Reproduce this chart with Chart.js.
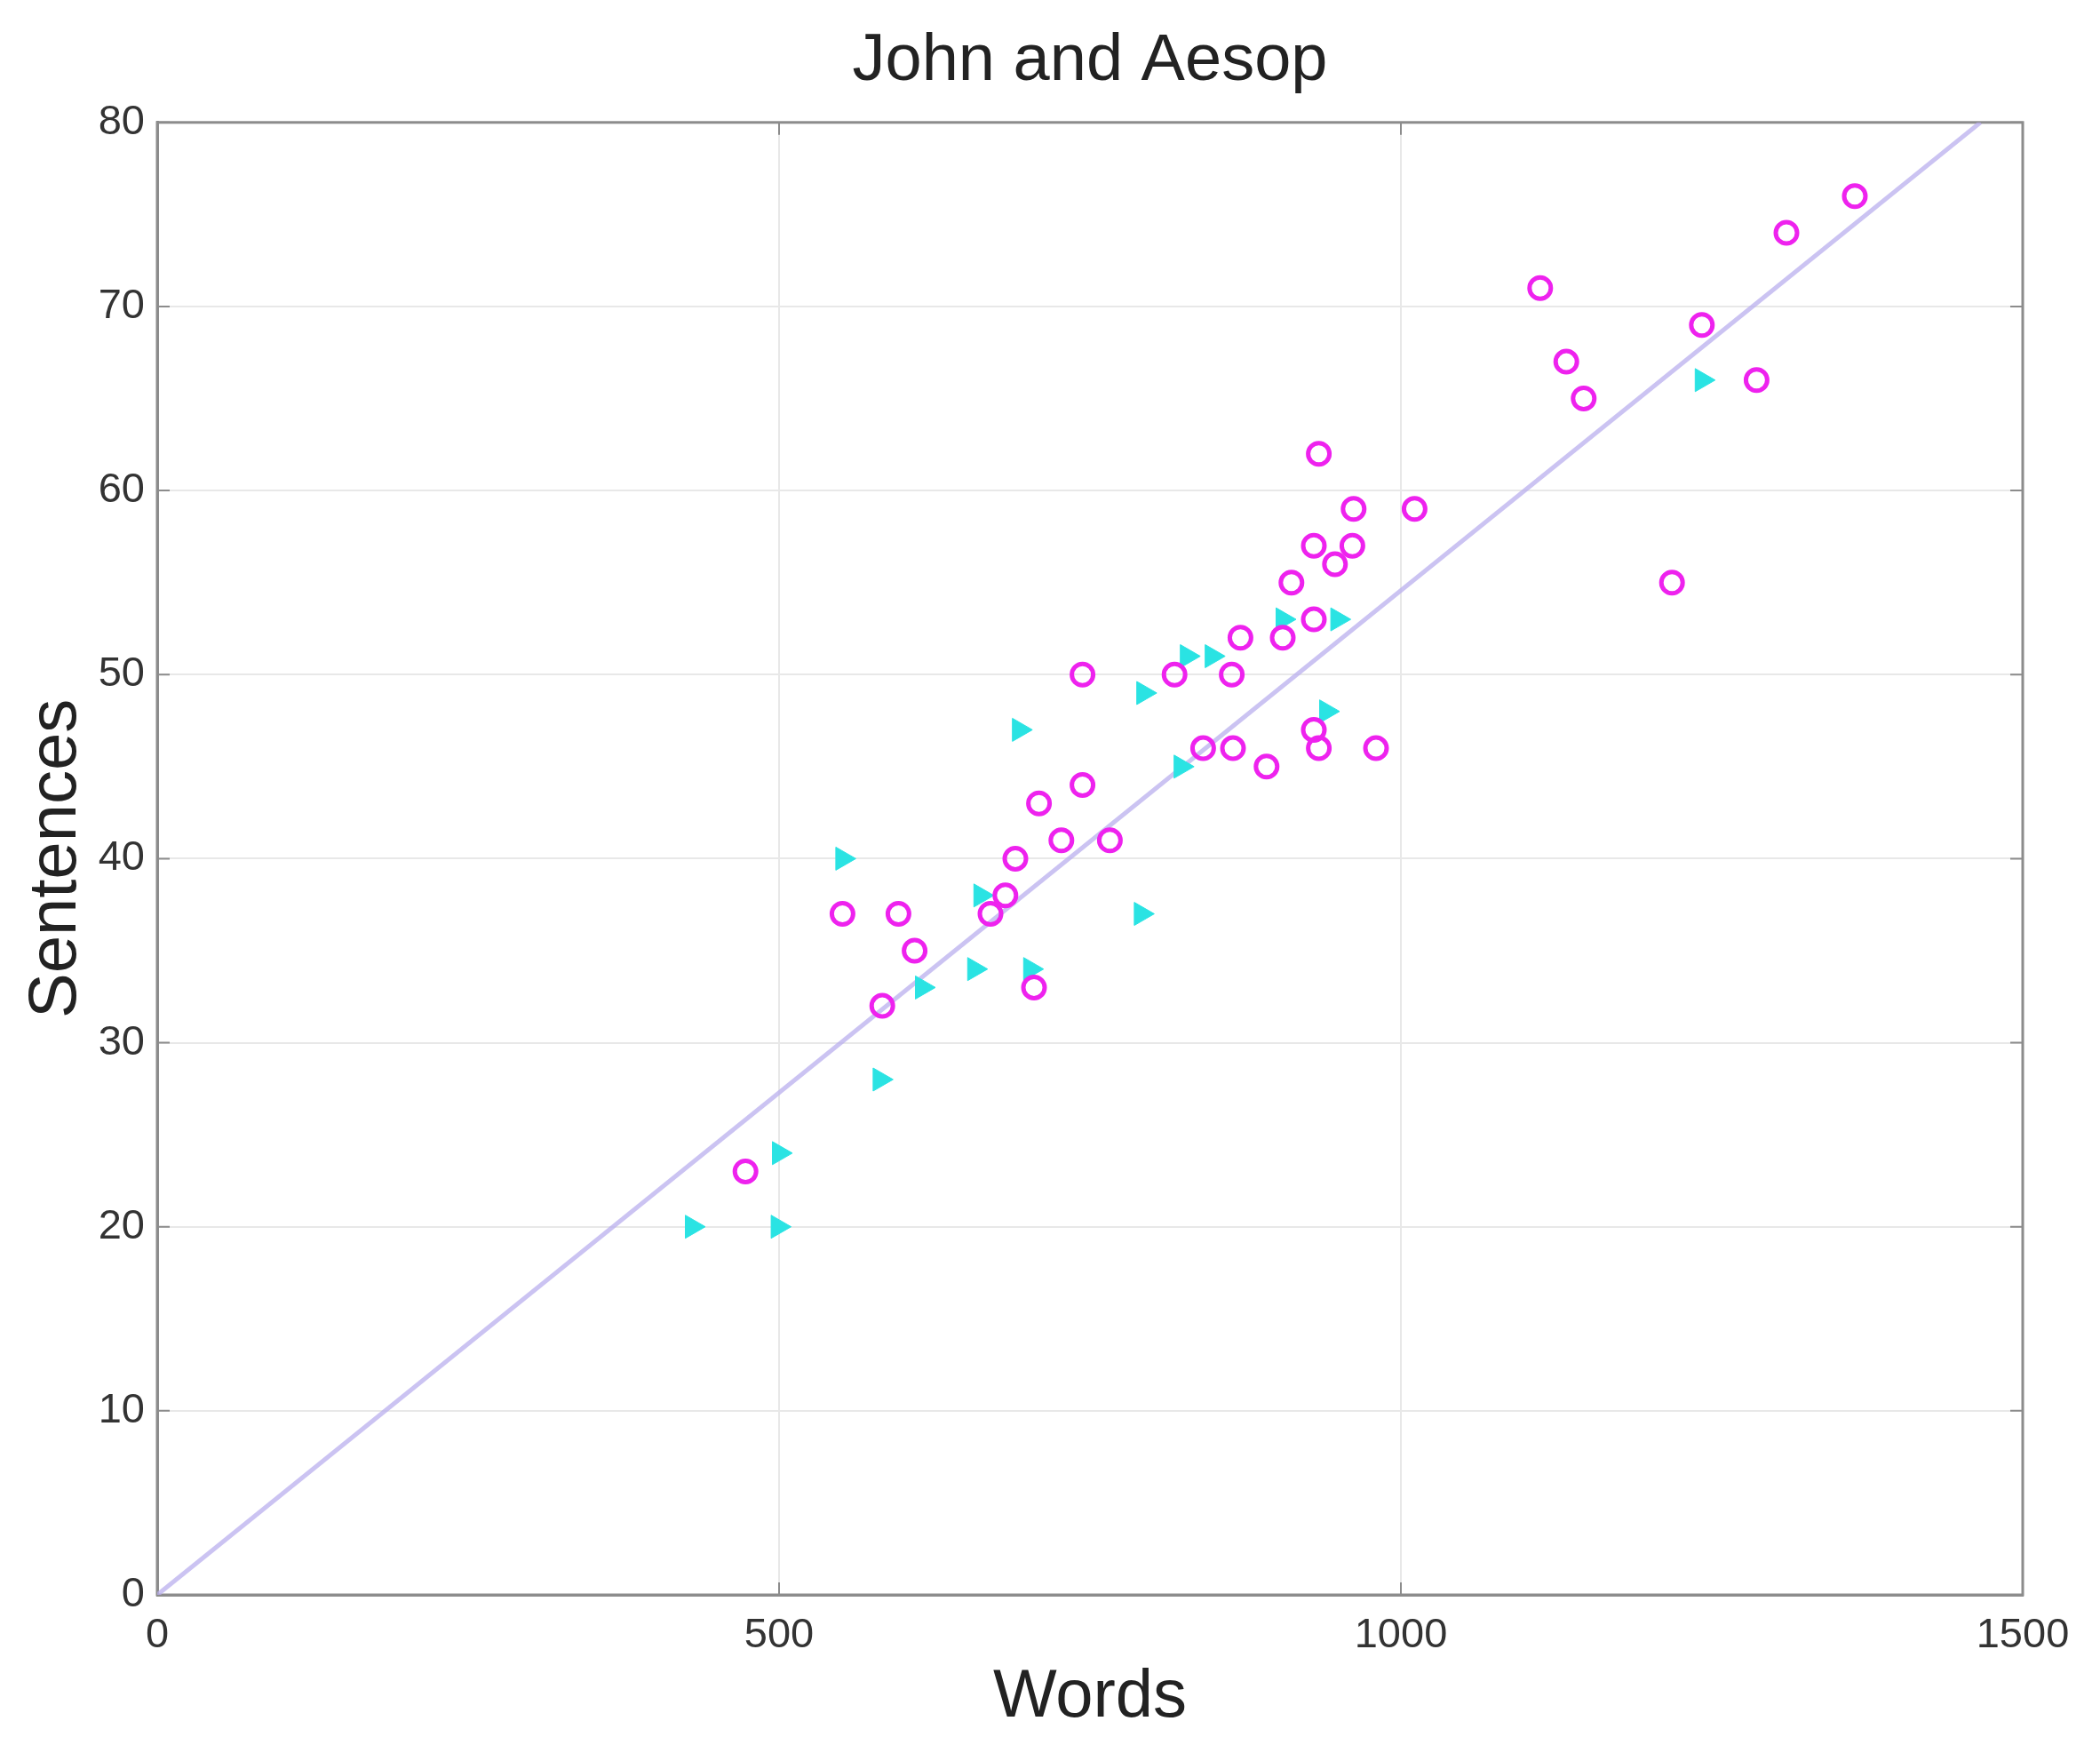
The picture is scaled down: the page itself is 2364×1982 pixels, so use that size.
<!DOCTYPE html>
<html>
<head>
<meta charset="utf-8">
<title>John and Aesop</title>
<script src="https://cdn.jsdelivr.net/npm/chart.js@4.4.1/dist/chart.umd.min.js"></script>
<style>
  html, body { margin: 0; padding: 0; background: #fff; }
</style>
</head>
<body>
<canvas id="myChart" width="2364" height="1982"></canvas>
<script>
// magenta circles
const johnWords = [473, 551, 583, 596, 609, 670, 682, 690, 705, 709, 727, 744, 744, 766, 818, 841, 864, 865, 871, 892,
  905, 912, 930, 930, 934, 930, 947, 961, 962, 934, 980, 1011, 1112, 1133, 1147, 1218, 1242, 1286, 1310, 1365];
const johnSentences = [23, 37, 32, 37, 35, 37, 38, 40, 33, 43, 41, 44, 50, 41, 50, 46, 50, 46, 52, 45,
  52, 55, 53, 47, 46, 57, 56, 57, 59, 62, 46, 59, 71, 67, 65, 55, 69, 66, 74, 76];

// cyan triangles
const aesopWords = [430, 499, 500, 551, 581, 615, 657, 662, 702, 693, 791, 793, 823, 828, 848, 905, 949, 940, 1242];
const aesopSentences = [20, 20, 24, 40, 28, 33, 34, 38, 34, 47, 37, 49, 45, 51, 51, 53, 53, 48, 66];

// fitted line through the origin
const fitWords = [0, 1466];
const fitSentences = [0, 80];

const xTicks = [0, 500, 1000, 1500];
const yTicks = [0, 10, 20, 30, 40, 50, 60, 70, 80];

const fontFamily = '"Liberation Sans", Arial, Helvetica, sans-serif';

function toPoints(xs, ys) {
  return xs.map((v, i) => ({ x: v, y: ys[i] }));
}

// frame around the plot plus matlab style inward ticks
const boxPlugin = {
  id: 'box',
  beforeDatasetsDraw(chart) {
    const { ctx, chartArea: a, scales: { x, y } } = chart;
    ctx.save();
    ctx.strokeStyle = '#8c8c8c';
    ctx.lineWidth = 2;
    ctx.beginPath();
    xTicks.forEach(v => {
      const px = x.getPixelForValue(v);
      ctx.moveTo(px, a.bottom); ctx.lineTo(px, a.bottom - 14);
      ctx.moveTo(px, a.top); ctx.lineTo(px, a.top + 14);
    });
    yTicks.forEach(v => {
      const py = y.getPixelForValue(v);
      ctx.moveTo(a.left, py); ctx.lineTo(a.left + 14, py);
      ctx.moveTo(a.right, py); ctx.lineTo(a.right - 14, py);
    });
    ctx.stroke();
    ctx.lineWidth = 3;
    ctx.strokeRect(a.left, a.top, a.right - a.left, a.bottom - a.top);
    ctx.restore();
  }
};

const ctx = document.getElementById('myChart').getContext('2d');
new Chart(ctx, {
  type: 'scatter',
  data: {
    datasets: [
      {
        label: 'John',
        data: toPoints(johnWords, johnSentences),
        pointStyle: 'circle',
        pointRadius: 12,
        pointBorderWidth: 5,
        borderColor: '#ee22ee',
        backgroundColor: 'rgba(0,0,0,0)',
        order: 1
      },
      {
        label: 'Aesop',
        data: toPoints(aesopWords, aesopSentences),
        pointStyle: 'triangle',
        rotation: 90,
        pointRadius: 15,
        pointBorderWidth: 1,
        borderColor: '#2ae3e3',
        backgroundColor: '#2ae3e3',
        order: 2
      },
      {
        label: 'Fit',
        data: toPoints(fitWords, fitSentences),
        showLine: true,
        pointRadius: 0,
        borderColor: 'rgba(185,175,238,0.75)',
        borderWidth: 5,
        order: 3
      }
    ]
  },
  options: {
    responsive: false,
    animation: false,
    layout: { padding: { top: 0, right: 87, bottom: 0, left: 0 } },
    plugins: {
      legend: { display: false },
      tooltip: { enabled: false },
      title: {
        display: true,
        text: 'John and Aesop',
        fullSize: false,
        color: '#222',
        font: { family: fontFamily, size: 74, weight: 'normal' },
        padding: { top: 25, bottom: 24 }
      }
    },
    scales: {
      x: {
        type: 'linear',
        min: 0,
        max: 1500,
        afterBuildTicks: s => { s.ticks = xTicks.map(v => ({ value: v })); },
        afterFit: s => { s.height = 187; },
        grid: { color: '#e8e8e8', lineWidth: 2, drawTicks: false },
        border: { color: '#8c8c8c', width: 3 },
        ticks: {
          padding: 18, maxRotation: 0, color: '#333',
          font: { family: fontFamily, size: 47 },
          callback: v => String(v)
        },
        title: {
          display: true,
          text: 'Words',
          color: '#222',
          font: { family: fontFamily, size: 76 },
          padding: { top: 0, bottom: 25 }
        }
      },
      y: {
        type: 'linear',
        min: 0,
        max: 80,
        afterBuildTicks: s => { s.ticks = yTicks.map(v => ({ value: v })); },
        afterFit: s => { s.width = 177; },
        grid: { color: '#e8e8e8', lineWidth: 2, drawTicks: false },
        border: { color: '#8c8c8c', width: 3 },
        ticks: {
          padding: 14, color: '#333',
          font: { family: fontFamily, size: 47 },
          callback: v => String(v)
        },
        title: {
          display: true,
          text: 'Sentences',
          color: '#222',
          font: { family: fontFamily, size: 76 },
          padding: { top: 18, bottom: 0 }
        }
      }
    }
  },
  plugins: [boxPlugin]
});
</script>
</body>
</html>
